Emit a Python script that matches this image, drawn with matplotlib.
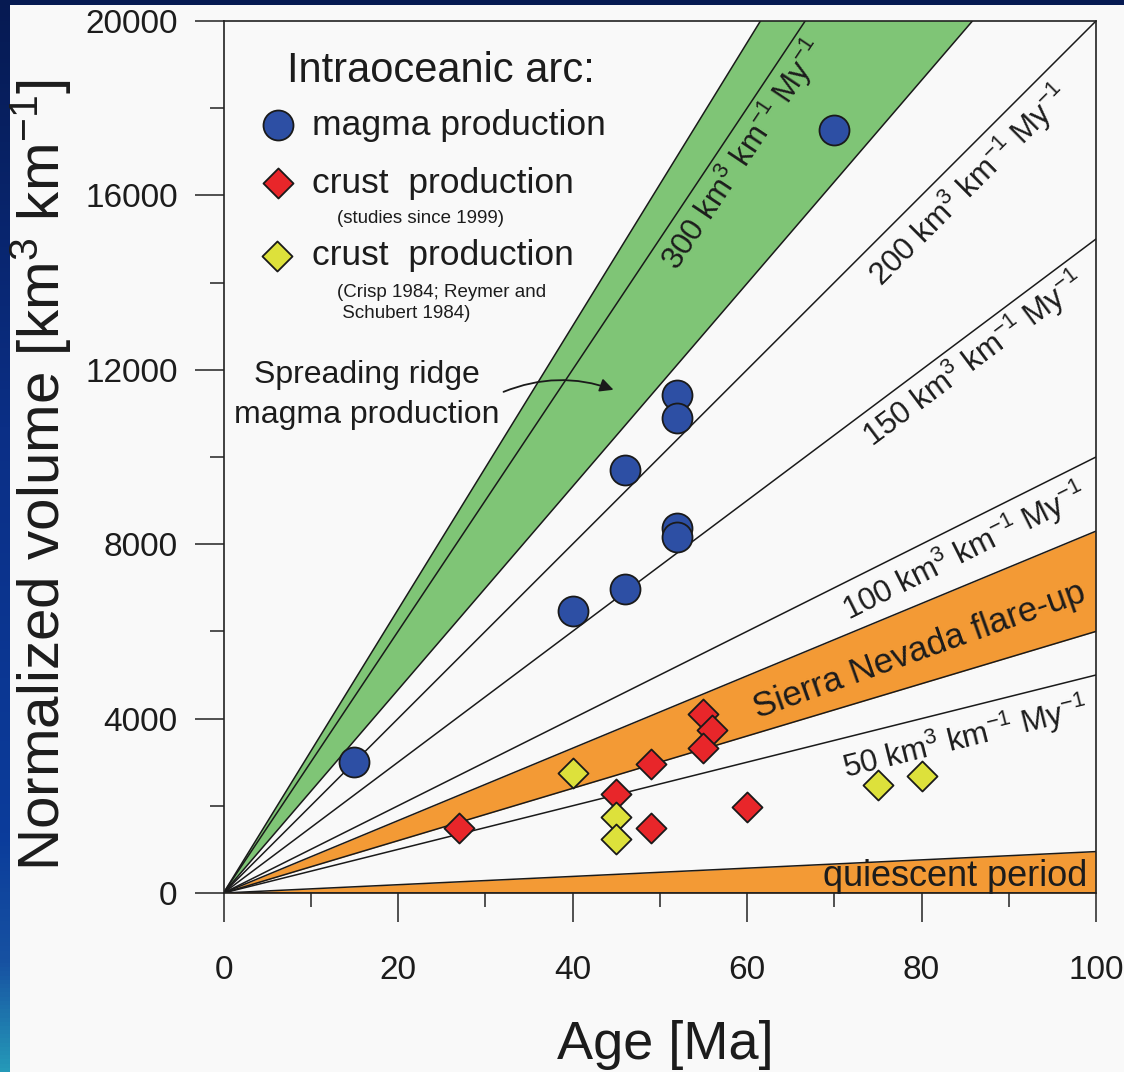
import numpy as np
import matplotlib
matplotlib.use("Agg")
import matplotlib.pyplot as plt
from matplotlib.colors import LinearSegmentedColormap
from matplotlib.patches import Rectangle, FancyArrowPatch

plt.rcParams["font.family"] = ["Liberation Sans", "DejaVu Sans"]
plt.rcParams["mathtext.fontset"] = "custom"
plt.rcParams["mathtext.rm"] = "Liberation Sans"
plt.rcParams["mathtext.it"] = "Liberation Sans:italic"
plt.rcParams["mathtext.bf"] = "Liberation Sans:bold"
plt.rcParams["mathtext.sf"] = "Liberation Sans"

# ---- data -------------------------------------------------------------
# reference production rates (km3 per km arc per My)
rate_lines = [50, 100, 150, 200, 300]
rate_text_rates = [300, 200, 150, 100, 50]
# baseline start of each rate label
rate_text_pos = [(52.0, 14250), (75.4, 13880), (74.35, 10200), (71.7, 6240), (71.35, 2620)]

ridge_band = (233, 325)       # spreading ridge magma production
sierra_band = (60, 83)        # Sierra Nevada flare-up
quiescent_band = (0, 9.5)     # quiescent period

# intraoceanic arc magma production
magma_age = [15, 40, 46, 46, 52, 52, 52, 52, 70]
magma_vol = [3000, 6470, 6970, 9700, 8370, 8170, 11420, 10890, 17500]

# crust production, studies since 1999
crust_age = [27, 45, 49, 49, 55, 56, 55, 60]
crust_vol = [1500, 2260, 2950, 1480, 4100, 3750, 3330, 1970]

# crust production, Crisp 1984; Reymer and Schubert 1984
old_crust_age = [40, 45, 45, 75, 80]
old_crust_vol = [2745, 1750, 1250, 2470, 2680]

x_ticks = [0, 20, 40, 60, 80, 100]
y_ticks = [0, 4000, 8000, 12000, 16000, 20000]

# ---- style ------------------------------------------------------------
TXT = "#1c1c1c"
GREEN = "#7fc576"
ORANGE = "#f39a35"
BLUE = "#2d4fa4"
RED = "#e8262a"
YELLOW = "#dde13b"
PANEL = "#f9f9f9"

W, H = 1124, 1072
fig = plt.figure(figsize=(W / 100, H / 100), dpi=100)

# backdrop: blue gradient with a light panel on top
bg = fig.add_axes([0, 0, 1, 1], zorder=-10)
bg.axis("off")
grad = LinearSegmentedColormap.from_list(
    "bg", [(0, "#061a52"), (0.4, "#0b2f86"), (0.78, "#0b3c9b"),
           (0.9, "#1752a2"), (1, "#2599b8")])
bg.imshow(np.linspace(0, 1, 256)[:, None], aspect="auto", cmap=grad,
          extent=[0, 1, 0, 1])
bg.set_xlim(0, 1)
bg.set_ylim(0, 1)
bg.add_patch(Rectangle((10 / W, 0), 1 - 10 / W, 1 - 5 / H, color=PANEL, lw=0))

L, R, B, T = 223.5, 1096, 893, 21
ax = fig.add_axes([L / W, 1 - B / H, (R - L) / W, (B - T) / H])
ax.set_facecolor(PANEL)
ax.set_xlim(0, 100)
ax.set_ylim(0, 20000)

xs = np.array([0, 100])
lw = 1.1


def band(lo, hi, color):
    ax.fill_between(xs, lo * xs, hi * xs, color=color, lw=0, zorder=1)
    ax.plot(xs, lo * xs, color="#1a1a1a", lw=lw, zorder=2)
    ax.plot(xs, hi * xs, color="#1a1a1a", lw=lw, zorder=2)


band(*ridge_band, GREEN)
band(*sierra_band, ORANGE)
band(*quiescent_band, ORANGE)
for s in rate_lines:
    ax.plot(xs, s * xs, color="#1a1a1a", lw=lw, zorder=2)

# screen angle of a line with a given slope
px_x = (R - L) / 100.0
px_y = (B - T) / 20000.0


def angle(slope):
    return np.degrees(np.arctan(slope * px_y / px_x))


for r, (tx, ty) in zip(rate_text_rates, rate_text_pos):
    ax.text(tx, ty, r"%d km$^{3}$ km$^{-1}$ My$^{-1}$" % r, fontsize=22.5,
            color=TXT, rotation=angle(r), rotation_mode="anchor",
            ha="left", va="baseline", zorder=3)

ax.text(79.8, 5557, "Sierra Nevada flare-up", fontsize=25, color=TXT,
        rotation=angle(sum(sierra_band) / 2), rotation_mode="anchor",
        ha="center", va="center", zorder=3)
ax.text(99.0, 160, "quiescent period", fontsize=26, color=TXT,
        ha="right", va="baseline", zorder=3)

# data points
ax.scatter(magma_age, magma_vol, s=466, marker="o", facecolor=BLUE,
           edgecolor="#1a1a1a", lw=1.3, zorder=5)
ax.scatter(crust_age, crust_vol, s=234, marker="D", facecolor=RED,
           edgecolor="#1a1a1a", lw=1.3, zorder=5)
ax.scatter(old_crust_age, old_crust_vol, s=234, marker="D", facecolor=YELLOW,
           edgecolor="#1a1a1a", lw=1.3, zorder=5)

# legend block
ax.text(7.28, 18608, "Intraoceanic arc:", fontsize=30, color=TXT, va="baseline")
ax.scatter([6.2], [17615], s=466, marker="o", facecolor=BLUE,
           edgecolor="#1a1a1a", lw=1.3, zorder=5)
ax.text(10.1, 17385, "magma production", fontsize=25.5, color=TXT, va="baseline")
ax.scatter([6.2], [16277], s=234, marker="D", facecolor=RED,
           edgecolor="#1a1a1a", lw=1.3, zorder=5)
ax.text(10.1, 16048, "crust  production", fontsize=25.5, color=TXT, va="baseline")
ax.text(12.97, 15360, "(studies since 1999)", fontsize=13.5, color=TXT, va="baseline")
ax.scatter([6.1], [14617], s=234, marker="D", facecolor=YELLOW,
           edgecolor="#1a1a1a", lw=1.3, zorder=5)
ax.text(10.1, 14404, "crust  production", fontsize=25.5, color=TXT, va="baseline")
ax.text(13.04, 13677, "(Crisp 1984; Reymer and", fontsize=13.5, color=TXT, va="baseline")
ax.text(13.04, 13195, " Schubert 1984)", fontsize=13.5, color=TXT, va="baseline")

ax.text(16.45, 11690, "Spreading ridge", fontsize=23, color=TXT,
        ha="center", va="baseline")
ax.text(16.45, 10773, "magma production", fontsize=23, color=TXT,
        ha="center", va="baseline")
ax.add_patch(FancyArrowPatch((31.8, 11470), (45.0, 11520),
                             connectionstyle="arc3,rad=-0.2",
                             arrowstyle="-|>,head_length=8,head_width=4",
                             color="#1a1a1a", lw=1.3, zorder=4))

# axes, ticks
for sp in ax.spines.values():
    sp.set_linewidth(1.2)
    sp.set_color("#222222")
    sp.set_zorder(6)
ax.set_xticks(x_ticks)
ax.set_xticks(np.arange(10, 100, 20), minor=True)
ax.set_yticks(y_ticks)
ax.set_yticks(np.arange(2000, 20000, 4000), minor=True)
ax.set_yticklabels([str(v) for v in y_ticks])
ax.tick_params(which="major", direction="out", length=21, width=1.1,
               color="#222222", labelsize=24, labelcolor=TXT)
ax.tick_params(which="minor", direction="out", length=10, width=1.1,
               color="#222222")
ax.tick_params(axis="x", which="major", pad=23.5)
ax.tick_params(axis="y", which="major", pad=12)

ax.text(0.506, (B - 1059) / (B - T), "Age [Ma]", transform=ax.transAxes,
        fontsize=39, color=TXT, ha="center", va="baseline")
ax.text((41 - L) / (R - L), (B - 475) / (B - T),
        r"Normalized volume [km$^{3}$ km$^{-1}$]", transform=ax.transAxes,
        fontsize=42, color=TXT, ha="center", va="center", rotation=90)

fig.savefig("out.png", dpi=100)
